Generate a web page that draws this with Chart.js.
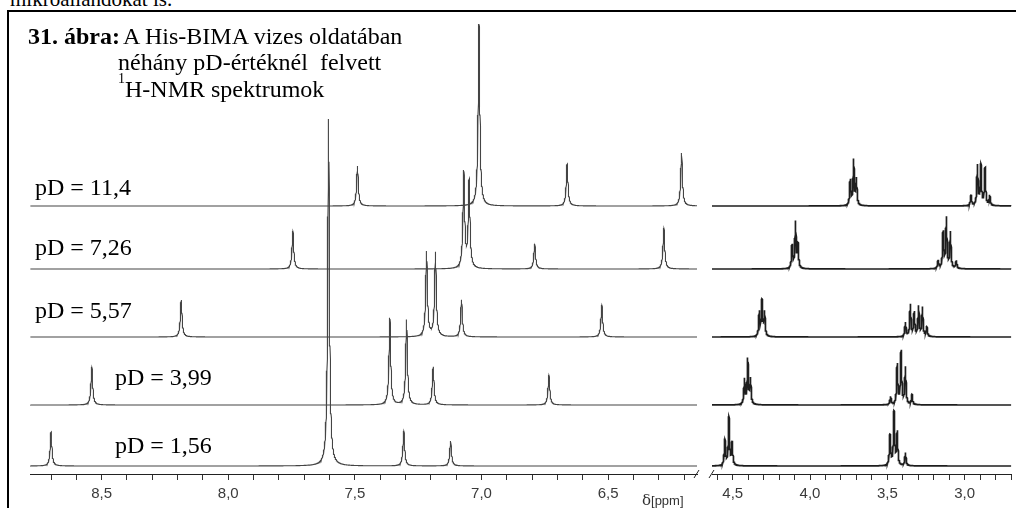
<!DOCTYPE html>
<html><head><meta charset="utf-8">
<script src="https://cdn.jsdelivr.net/npm/chart.js@4.4.0/dist/chart.umd.min.js"></script>
<style>
html,body{margin:0;padding:0;background:#fff;width:1016px;height:508px;overflow:hidden;position:relative;font-family:"Liberation Serif","Times New Roman",serif;color:#000;}
#frame{position:absolute;left:7px;top:10px;width:1040px;height:540px;border-left:2px solid #000;border-top:2px solid #000;}
.t{position:absolute;white-space:pre;font-size:24px;line-height:24px;}
#cl{position:absolute;left:30px;top:0;}
#cr{position:absolute;left:700px;top:0;}
#unit{position:absolute;left:642px;top:493px;font-family:"Liberation Sans",Arial,sans-serif;font-size:13px;line-height:14px;color:#333;white-space:nowrap;}
</style></head>
<body>
<div class="t" style="left:10px;top:-11px;font-size:21px;line-height:21px;">mikroállandókat is.</div>
<div id="frame"></div>
<canvas id="cl" width="680" height="508"></canvas>
<canvas id="cr" width="316" height="508"></canvas>
<div class="t" style="left:28px;top:24px;font-weight:bold;">31. ábra:</div>
<div class="t" style="left:123px;top:24px;">A His-BIMA vizes oldatában</div>
<div class="t" style="left:118px;top:50px;">néhány pD-értéknél  felvett</div>
<div class="t" style="left:118px;top:72px;font-size:14px;line-height:14px;">1</div>
<div class="t" style="left:125px;top:77px;">H-NMR spektrumok</div>
<div id="labels"></div>
<div id="unit"><span style="font-family:'DejaVu Serif',serif;font-size:15px;">δ</span>[ppm]</div>
<script>
// ---- data ----
const seriesLabels = ['pD = 11,4', 'pD = 7,26', 'pD = 5,57', 'pD = 3,99', 'pD = 1,56'];

// aromatic region (left panel): chemical shifts (ppm) and peak heights
const aroShifts11_4 = [7.49, 7.01, 6.662, 6.21];
const aroHeights11_4 = [40, 182, 42, 53];
const aroShifts7_26 = [7.745, 7.070, 7.049, 6.79, 6.28];
const aroHeights7_26 = [38, 96, 87, 25, 41];
const aroShifts5_57 = [8.186, 7.217, 7.182, 7.079, 6.525];
const aroHeights5_57 = [37, 85, 84, 37, 32];
const aroShifts3_99 = [8.539, 7.362, 7.296, 7.191, 6.734];
const aroHeights3_99 = [38, 87, 85, 38, 30];
const aroShifts1_56 = [8.70, 7.604, 7.307, 7.122];
const aroHeights1_56 = [34, 347, 35, 25];

// aliphatic region (right panel): multiplet lines (ppm) and heights
const aliShifts11_4 = [3.740, 3.718, 3.700, 2.959, 2.917, 2.895, 2.868, 2.838];
const aliHeights11_4 = [25, 45, 26, 10, 40, 40, 37, 10];
const aliShifts7_26 = [4.116, 4.094, 4.078, 3.171, 3.139, 3.118, 3.092, 3.054];
const aliHeights7_26 = [23, 46, 23, 8, 36, 50, 36, 8];
const aliShifts5_57 = [4.328, 4.311, 4.294, 3.383, 3.351, 3.326, 3.298, 3.273, 3.245];
const aliHeights5_57 = [24, 35, 24, 14, 32, 24, 30, 29, 10];
const aliShifts3_99 = [4.424, 4.403, 4.385, 3.479, 3.436, 3.411, 3.383, 3.341];
const aliHeights3_99 = [25, 45, 25, 8, 40, 53, 37, 10];
const aliShifts1_56 = [4.551, 4.525, 4.504, 3.483, 3.457, 3.436, 3.383];
const aliHeights1_56 = [26, 48, 23, 30, 53, 33, 13];

// axis ranges and ticks
const leftRange = [6.149, 8.783];
const rightRange = [2.698, 4.634];
const leftTicks = [8.7, 8.6, 8.5, 8.4, 8.3, 8.2, 8.1, 8.0, 7.9, 7.8, 7.7, 7.6, 7.5, 7.4, 7.3, 7.2, 7.1, 7.0, 6.9, 6.8, 6.7, 6.6, 6.5, 6.4, 6.3, 6.2];
const leftTickLabels = {'8.5': '8,5', '8.0': '8,0', '7.5': '7,5', '7.0': '7,0', '6.5': '6,5'};
const rightTicks = [4.6, 4.5, 4.4, 4.3, 4.2, 4.1, 4.0, 3.9, 3.8, 3.7, 3.6, 3.5, 3.4, 3.3, 3.2, 3.1, 3.0, 2.9, 2.8, 2.7];
const rightTickLabels = {'4.5': '4,5', '4.0': '4,0', '3.5': '3,5', '3.0': '3,0'};

// ---- presentation ----
const stackOffsets = [268, 205, 137, 69, 8];   // vertical stacking of the spectra
const labelPos = [[35, 175], [35, 235], [35, 298], [115, 365], [115, 433]];

const aroShifts = [aroShifts11_4, aroShifts7_26, aroShifts5_57, aroShifts3_99, aroShifts1_56];
const aroHeights = [aroHeights11_4, aroHeights7_26, aroHeights5_57, aroHeights3_99, aroHeights1_56];
const aliShifts = [aliShifts11_4, aliShifts7_26, aliShifts5_57, aliShifts3_99, aliShifts1_56];
const aliHeights = [aliHeights11_4, aliHeights7_26, aliHeights5_57, aliHeights3_99, aliHeights1_56];

const lab = document.getElementById('labels');
seriesLabels.forEach((s, i) => {
  const d = document.createElement('div');
  d.className = 't';
  d.style.left = labelPos[i][0] + 'px';
  d.style.top = labelPos[i][1] + 'px';
  d.textContent = s;
  lab.appendChild(d);
});

// spectrum trace: Lorentzian lines at the given shifts
function trace(range, shifts, heights, gamma, offset) {
  const xs = [];
  const step = 0.0005;
  for (let x = range[0]; x <= range[1] + 1e-9; x += step) xs.push(x);
  shifts.forEach(s => { xs.push(s); xs.push(s - gamma * 0.5); xs.push(s + gamma * 0.5); });
  xs.sort((a, b) => a - b);
  return xs.map(x => {
    let y = 0;
    for (let k = 0; k < shifts.length; k++) {
      const u = (x - shifts[k]) / gamma;
      y += heights[k] / (1 + u * u);
    }
    return {x: x, y: offset + y};
  });
}

const breakPlugin = {
  id: 'brk',
  afterDraw(chart, args, opts) {
    const ctx = chart.ctx, a = chart.chartArea;
    const xb = opts.side === 'right' ? a.right : a.left;
    ctx.save();
    ctx.strokeStyle = '#222';
    ctx.lineWidth = 1;
    ctx.beginPath();
    ctx.moveTo(xb - 3, a.bottom + 4);
    ctx.lineTo(xb + 2, a.bottom - 4);
    ctx.stroke();
    ctx.restore();
  }
};

function makeChart(id, range, shifts, heights, gamma, ticks, tickLabels, color, width, pad, side) {
  const datasets = shifts.map((s, i) => ({
    data: trace(range, s, heights[i], gamma, stackOffsets[i]),
    borderColor: color,
    borderWidth: width,
    pointRadius: 0,
    tension: 0,
    fill: false
  }));
  return new Chart(document.getElementById(id), {
    type: 'line',
    data: {datasets},
    options: {
      responsive: false,
      animation: false,
      parsing: false,
      normalized: true,
      events: [],
      layout: {padding: pad},
      plugins: {legend: {display: false}, tooltip: {enabled: false}, brk: {side}},
      scales: {
        x: {
          type: 'linear',
          reverse: true,
          min: range[0],
          max: range[1],
          afterFit: s => { s.height = 34; },
          afterBuildTicks: s => { s.ticks = ticks.map(v => ({value: v})); },
          grid: {drawOnChartArea: false, drawTicks: true, tickLength: 6, color: '#333', lineWidth: 1},
          border: {display: true, color: '#222', width: 1},
          ticks: {
            autoSkip: false,
            maxRotation: 0,
            padding: 5,
            color: '#3a3a3a',
            font: {family: 'Liberation Sans', size: 15},
            callback: v => { const k = (Math.round(v * 10) / 10).toFixed(1); return tickLabels[k] !== undefined ? tickLabels[k] : ''; }
          }
        },
        y: {display: false, min: 0, max: 474}
      }
    },
    plugins: [breakPlugin]
  });
}

makeChart('cl', leftRange, aroShifts, aroHeights, 0.004, leftTicks, leftTickLabels, '#444', 1.1, {left: 0, right: 13, top: 0, bottom: 0}, 'right');
makeChart('cr', rightRange, aliShifts, aliHeights, 0.0045, rightTicks, rightTickLabels, '#1e1e1e', 1.7, {left: 12, right: 0, top: 0, bottom: 0}, 'left');
</script>
</body></html>
